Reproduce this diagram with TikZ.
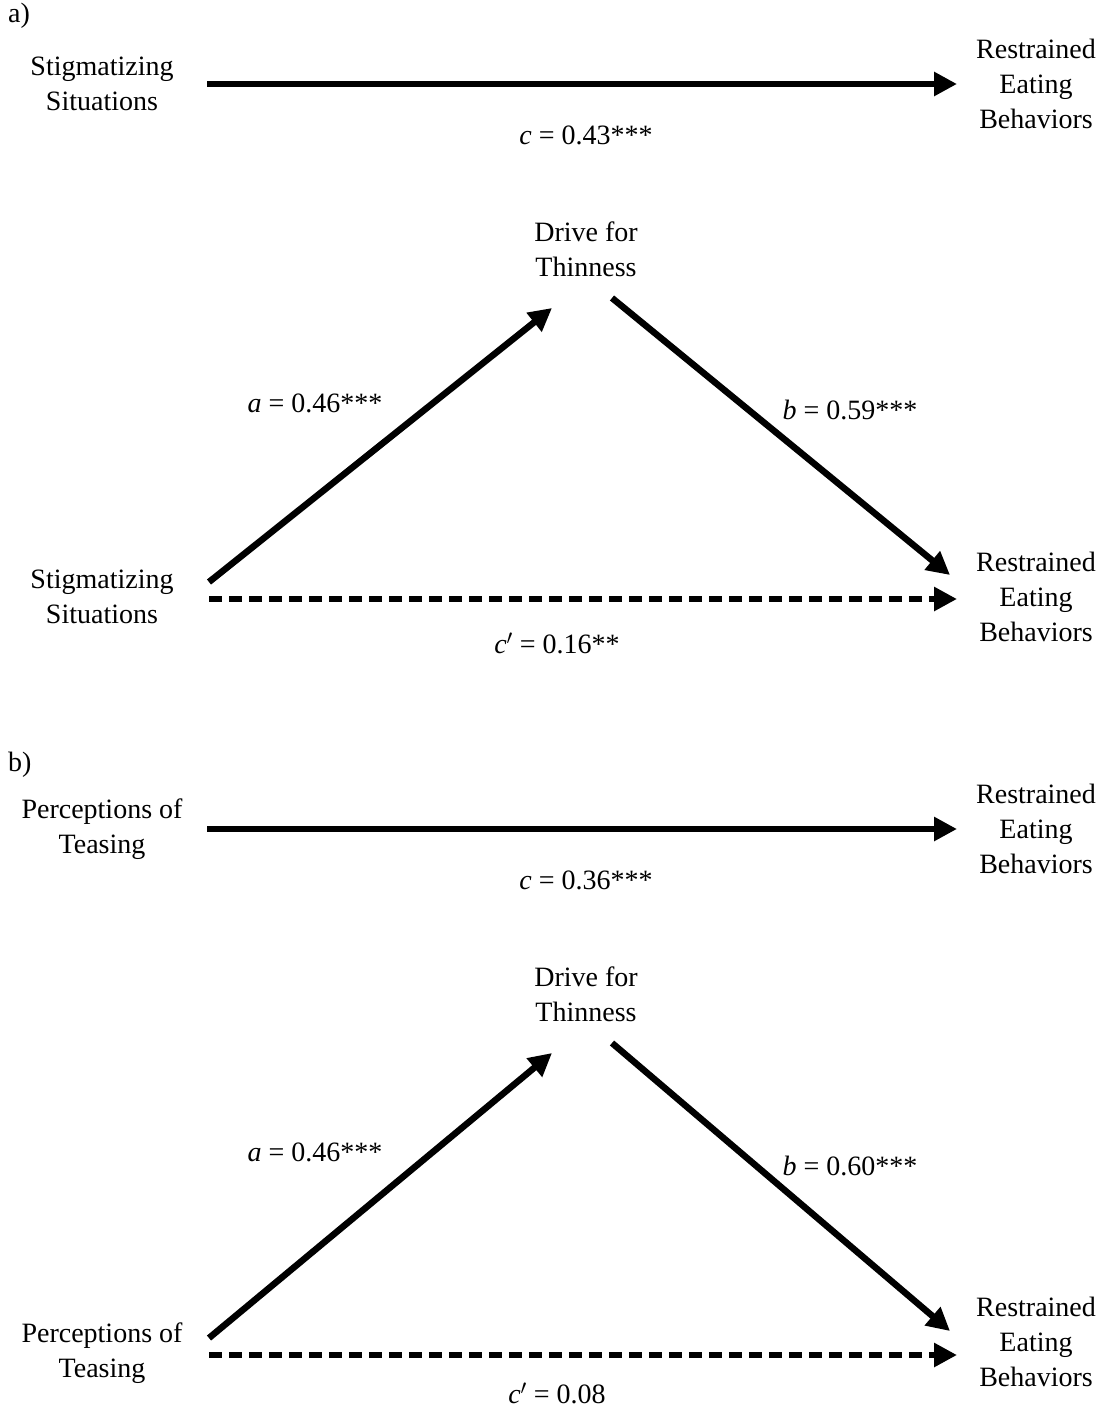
\documentclass[tikz,border=0pt]{standalone}
\usepackage{fontspec}
\setmainfont{Liberation Serif}
\usetikzlibrary{arrows.meta,positioning}
\newcommand{\bigtxt}{\fontsize{28}{35}\selectfont}

\begin{document}
\begin{tikzpicture}[x=1pt,y=-1pt,
    var/.style={align=center,inner sep=0pt,outer sep=0pt,font=\bigtxt},
    srcvar/.style={var,minimum width=210pt},
    outvar/.style={var,minimum width=158pt},
    coef/.style={font=\bigtxt,inner sep=0pt},
    effect/.style={line width=6.5pt,-{Triangle[length=23pt,width=23pt]}},
    indirect/.style={effect,dash pattern=on 13pt off 7pt}]
        \useasboundingbox (0,0) rectangle (1107,1412);
        \foreach \p/\dy/\lo/\src/\c/\a/\b/\cp in {a/0/0/Stigmatizing\\Situations/0.43***/0.46***/0.59***/0.16**,
                                                  b/745/11/Perceptions of\\Teasing/0.36***/0.46***/0.60***/0.08}{
          \begin{scope}[yshift=-\dy pt]
            \node[coef,anchor=west] (tag\p) at (8,{16+0.3*\lo}) {\p)};
            % total effect
            \node[srcvar] (x\p) at (102,84) {\src};
            \node[outvar] (y\p) at (1036,84) {Restrained\\Eating\\Behaviors};
            \draw[effect] (x\p.east) -- (y\p.west);
            \node[coef] (c\p) at (586,135) {\textit{c} = \c};
            % mediation model
            \node[var,minimum height=104pt] (m\p) at (586,249) {Drive for\\Thinness};
            \node[srcvar] (xx\p) at (102,{597+\lo}) {\src};
            \node[outvar] (yy\p) at (1036,597) {Restrained\\Eating\\Behaviors};
            \coordinate (d\p) at ([xshift=2pt,yshift=-2pt]xx\p.east);
            \draw[effect] ([yshift=17pt]d\p) -- ([xshift=-34pt,yshift=-7pt]m\p.south);
            \draw[effect] ([xshift=26pt,yshift=3pt]m\p.south) -- ([xshift=-7pt,yshift=24pt]d\p -| yy\p.west);
            \draw[indirect] (d\p) -- (d\p -| yy\p.west);
            \node[coef] (a\p) at (315,{403+0.4*\lo}) {\textit{a} = \a};
            \node[coef] (b\p) at (850,{410+\lo}) {\textit{b} = \b};
            \node[coef] (cp\p) at (557,{643+0.5*\lo}) {\textit{c}$'$ = \cp};
          \end{scope}
        }
      \end{tikzpicture}
\end{document}
